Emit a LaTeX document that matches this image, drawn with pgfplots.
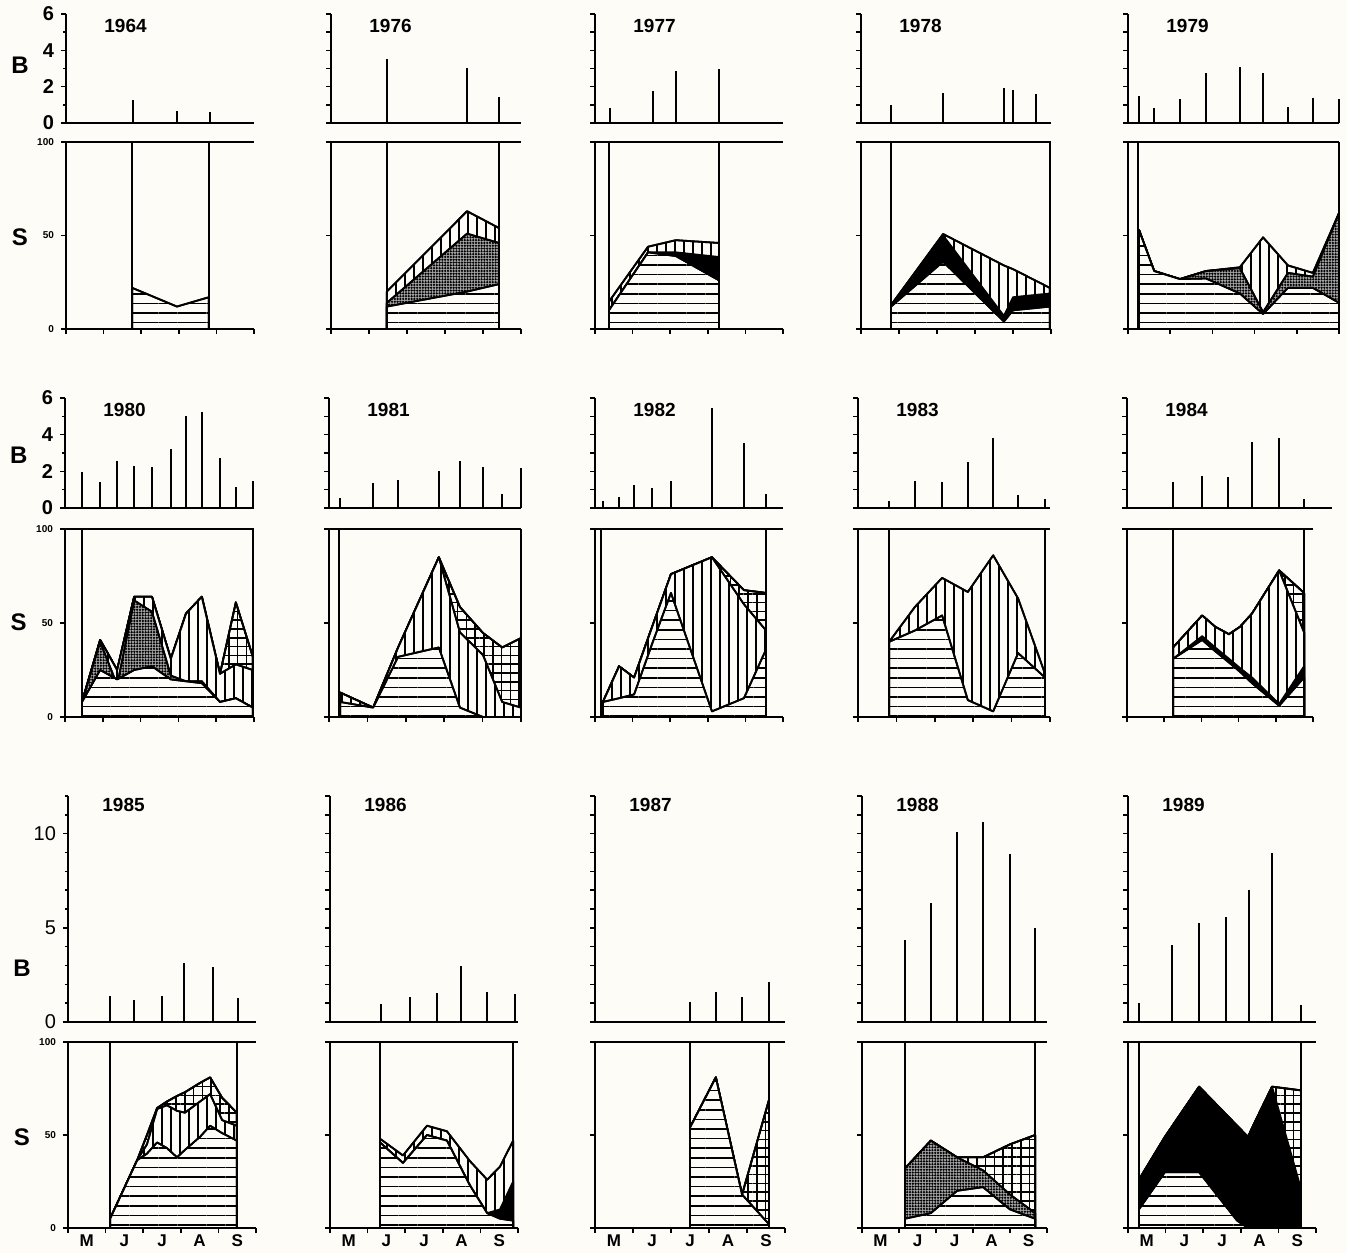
\documentclass[border=0pt]{standalone}
\usepackage{fontspec}
\setmainfont{Liberation Sans}
\usepackage{pgfplots}
\pgfplotsset{compat=1.18}
\usetikzlibrary{patterns.meta}
\definecolor{bg}{RGB}{253,252,247}
\pgfplotsset{
 every non boxed x axis/.style={},
 every non boxed y axis/.style={},
 P/.style={scale only axis, anchor=south west, clip=false, xmin=0, xmax=5,
   axis line style={line width=1pt,-}, tick style={line width=0.8pt,black},
   tick align=outside, major tick length=2.5pt, minor tick length=1.6pt},
 B/.style={P, ymin=0, ymax=6, axis x line=bottom, axis y line=left, xtick=\empty,
   ytick={0,...,6}, yticklabels={}},
 B3/.style={B, ymax=12, ytick={0,...,12}},
 B1/.style={ytick={0,2,4,6}, minor ytick={1,3,5}, yticklabels={0,2,4,6},
   yticklabel style={font=\fontsize{10}{10}\selectfont\bfseries}},
 B31/.style={ytick={0,5,10}, minor ytick={1,2,3,4,6,7,8,9,11,12}, yticklabels={0,5,10},
   yticklabel style={font=\fontsize{10}{10}\selectfont}},
 S/.style={P, ymin=0, ymax=100, axis x line=box, axis y line=left, xtick={0,...,5},
   xtick pos=left, xticklabels={}, ytick={0,50,100}, yticklabels={}},
 S1/.style={yticklabels={0,50,100}, yticklabel style={font=\fontsize{5}{5}\selectfont\bfseries}},
 SM/.style={extra x ticks={0.5,1.5,2.5,3.5,4.5}, extra x tick labels={M,J,J,A,S},
   extra x tick style={major tick length=0pt, tick label style={font=\fontsize{8.5}{9}\selectfont\bfseries}}},
 bar/.style={ycomb, black, line width=1pt},
 vl/.style={black, line width=1pt},
 L/.style={draw=black, line width=0.9pt, line join=round},
 Hp/.style={L, preaction={fill=bg}, pattern={Lines[angle=0,distance=4.8pt,line width=0.8pt]}},
 Vp/.style={L, preaction={fill=bg}, pattern={Lines[angle=90,distance=4.5pt,line width=0.8pt]}},
 Gp/.style={L, preaction={fill=bg}, pattern={Lines[angle=0,distance=4.4pt,line width=0.75pt]},
   postaction={pattern={Lines[angle=90,distance=4.4pt,line width=0.75pt]}}},
 Dp/.style={L, preaction={fill=black!35}, pattern={Dots[distance=1.4pt,radius=0.62pt]}},
 Kp/.style={L, fill=black},
}
\tikzset{yr/.style={anchor=west, xshift=19pt, yshift=-6pt, inner sep=0pt, font=\fontsize{9.5}{10}\selectfont\bfseries},
 lab/.style={font=\fontsize{12}{12}\selectfont\bfseries}}
\begin{document}
\begin{tikzpicture}
\fill[bg] (0pt,0pt) rectangle (673.5pt,-626.5pt);
% ================= ROW 1 =================
% 1964
\begin{axis}[B, B1, at={(33pt,-61.5pt)}, width=94pt, height=54.5pt]
\addplot[bar] coordinates {(1.78,1.26)(2.95,0.66)(3.83,0.6)};
\node[yr] at (rel axis cs:0,1) {1964};
\node[lab] at (rel axis cs:-0.245,0.53) {B};
\end{axis}
\begin{axis}[S, S1, at={(33pt,-164.5pt)}, width=94pt, height=93.5pt]
\addplot[Hp] coordinates {(1.76,22)(2.95,12)(3.80,17)} \closedcycle;
\addplot[vl] coordinates {(1.76,0)(1.76,100)};
\addplot[vl] coordinates {(3.80,0)(3.80,100)};
\node[lab] at (rel axis cs:-0.245,0.49) {S};
\end{axis}
% 1976
\begin{axis}[B, at={(165.5pt,-61.5pt)}, width=95pt, height=54.5pt]
\addplot[bar] coordinates {(1.47,3.5)(3.58,3.0)(4.42,1.44)};
\node[yr] at (rel axis cs:0,1) {1976};
\end{axis}
\begin{axis}[S, at={(165.5pt,-164.5pt)}, width=95pt, height=93.5pt]
\addplot[Vp] coordinates {(1.47,20)(3.58,63)(4.42,54)} \closedcycle;
\addplot[Dp] coordinates {(1.47,14)(3.58,51)(4.42,46)} \closedcycle;
\addplot[Hp] coordinates {(1.47,12)(3.58,20)(4.42,24)} \closedcycle;
\addplot[vl] coordinates {(1.47,0)(1.47,100)};
\addplot[vl] coordinates {(4.42,0)(4.42,100)};
\end{axis}
% 1977
\begin{axis}[B, at={(297.5pt,-61.5pt)}, width=94pt, height=54.5pt]
\addplot[bar] coordinates {(0.40,0.8)(1.54,1.78)(2.15,2.87)(3.30,2.95)};
\node[yr] at (rel axis cs:0,1) {1977};
\end{axis}
\begin{axis}[S, at={(297.5pt,-164.5pt)}, width=94pt, height=93.5pt]
\addplot[Vp] coordinates {(0.37,14.6)(1.41,44)(2.15,47.5)(3.30,46)} \closedcycle;
\addplot[Kp] coordinates {(0.37,10)(1.41,41)(2.15,41)(3.30,38.5)} \closedcycle;
\addplot[Hp] coordinates {(0.37,10)(1.41,41)(2.15,39)(3.30,26)} \closedcycle;
\addplot[vl] coordinates {(0.37,0)(0.37,100)};
\addplot[vl] coordinates {(3.30,0)(3.30,100)};
\end{axis}
% 1978
\begin{axis}[B, at={(430.5pt,-61.5pt)}, width=95pt, height=54.5pt]
\addplot[bar] coordinates {(0.79,1.0)(2.16,1.65)(3.76,1.9)(4.0,1.8)(4.61,1.57)};
\node[yr] at (rel axis cs:0,1) {1978};
\end{axis}
\begin{axis}[S, at={(430.5pt,-164.5pt)}, width=95pt, height=93.5pt]
\addplot[Vp] coordinates {(0.79,12.8)(2.16,50.8)(3.76,34)(4.0,32)(4.97,22)} \closedcycle;
\addplot[Kp] coordinates {(0.79,12.8)(2.16,50)(3.76,7)(4.0,17)(4.97,19)} \closedcycle;
\addplot[Hp] coordinates {(0.79,12)(2.16,36)(3.76,4)(4.0,10)(4.97,12)} \closedcycle;
\addplot[vl] coordinates {(0.79,0)(0.79,100)};
\addplot[vl] coordinates {(4.97,0)(4.97,100)};
\end{axis}
% 1979
\begin{axis}[B, at={(564pt,-61.5pt)}, width=105.5pt, height=54.5pt]
\addplot[bar] coordinates {(0.26,1.48)(0.62,0.82)(1.23,1.3)(1.85,2.76)(2.65,3.1)(3.20,2.76)(3.79,0.9)(4.38,1.4)(5.0,1.3)};
\node[yr] at (rel axis cs:0,1) {1979};
\end{axis}
\begin{axis}[S, at={(564pt,-164.5pt)}, width=105.5pt, height=93.5pt]
\addplot[Vp] coordinates {(0.26,53)(0.62,31)(1.23,26.7)(1.85,31)(2.65,33)(3.20,49)(3.79,34)(4.38,30)(5.0,62)} \closedcycle;
\addplot[Dp] coordinates {(0.26,53)(0.62,31)(1.23,26.7)(1.85,31)(2.65,32.6)(3.20,9)(3.79,30)(4.38,28)(5.0,62)} \closedcycle;
\addplot[Hp] coordinates {(0.26,53)(0.62,31)(1.23,26.7)(1.85,27)(2.65,19)(3.20,8)(3.79,22)(4.38,22)(5.0,14)} \closedcycle;
\addplot[vl] coordinates {(0.24,0)(0.24,100)};
\addplot[vl] coordinates {(5.0,0)(5.0,100)};
\end{axis}
% ================= ROW 2 =================
% 1980
\begin{axis}[B, B1, at={(32.5pt,-254pt)}, width=94.5pt, height=55pt]
\addplot[bar] coordinates {(0.45,1.96)(0.93,1.42)(1.38,2.56)(1.83,2.29)(2.30,2.24)(2.80,3.22)(3.20,5.0)(3.62,5.24)(4.10,2.73)(4.52,1.15)(4.97,1.47)};
\node[yr] at (rel axis cs:0,1) {1980};
\node[lab] at (rel axis cs:-0.245,0.48) {B};
\end{axis}
\begin{axis}[S, S1, at={(32.5pt,-358.5pt)}, width=94.5pt, height=94pt]
\addplot[Gp] coordinates {(0.45,8)(0.93,41)(1.38,25)(1.83,64)(2.30,64)(2.80,31)(3.20,55)(3.62,64)(4.10,23)(4.52,61)(4.97,32)} \closedcycle;
\addplot[Vp] coordinates {(0.45,8)(0.93,41)(1.38,25)(1.83,64)(2.30,64)(2.80,31)(3.20,55)(3.62,64)(4.10,23)(4.52,28)(4.97,25)} \closedcycle;
\addplot[Dp] coordinates {(0.45,8)(0.93,40)(1.38,17)(1.83,62)(2.30,56)(2.80,22)(3.20,19)(3.62,19)(4.10,8)(4.52,10)(4.97,5)} \closedcycle;
\addplot[Hp] coordinates {(0.45,8)(0.93,25)(1.38,20)(1.83,25)(2.30,27)(2.80,20)(3.20,19)(3.62,18)(4.10,8)(4.52,10)(4.97,5)} \closedcycle;
\addplot[vl] coordinates {(0.45,0)(0.45,100)};
\addplot[vl] coordinates {(4.97,0)(4.97,100)};
\node[lab] at (rel axis cs:-0.245,0.505) {S};
\end{axis}
% 1981
\begin{axis}[B, at={(164.5pt,-254pt)}, width=96pt, height=55pt]
\addplot[bar] coordinates {(0.29,0.55)(1.15,1.36)(1.80,1.53)(2.86,2.0)(3.41,2.56)(4.01,2.24)(4.51,0.76)(5.0,2.18)};
\node[yr] at (rel axis cs:0,1) {1981};
\end{axis}
\begin{axis}[S, at={(164.5pt,-358.5pt)}, width=96pt, height=94pt]
\addplot[Gp] coordinates {(0.29,13)(1.15,5)(1.80,37)(2.86,85)(3.41,58.5)(4.01,44.7)(4.51,37)(5.0,42)} \closedcycle;
\addplot[Vp] coordinates {(0.29,13)(1.15,5)(1.80,37)(2.86,85)(3.41,45)(4.01,33)(4.51,8)(5.0,5)} \closedcycle;
\addplot[Hp] coordinates {(0.29,8)(1.15,5)(1.80,32)(2.86,37)(3.41,5)(4.01,0)(4.51,0)(5.0,0)} \closedcycle;
\addplot[vl] coordinates {(0.25,0)(0.25,100)};
\addplot[vl] coordinates {(5.0,0)(5.0,100)};
\end{axis}
% 1982
\begin{axis}[B, at={(297.5pt,-254pt)}, width=94pt, height=55pt]
\addplot[bar] coordinates {(0.21,0.38)(0.64,0.6)(1.04,1.25)(1.52,1.09)(2.02,1.47)(3.11,5.46)(3.96,3.55)(4.55,0.76)};
\node[yr] at (rel axis cs:0,1) {1982};
\end{axis}
\begin{axis}[S, at={(297.5pt,-358.5pt)}, width=94pt, height=94pt]
\addplot[Gp] coordinates {(0.21,8)(0.64,27)(1.04,21)(1.52,48)(2.02,76)(3.11,85)(3.96,67.5)(4.55,66)} \closedcycle;
\addplot[Vp] coordinates {(0.21,8)(0.64,27)(1.04,21)(1.52,48)(2.02,76)(3.11,85)(3.96,60)(4.55,46)} \closedcycle;
\addplot[Hp] coordinates {(0.21,8)(0.64,10)(1.04,12)(1.52,39)(2.02,66)(3.11,3)(3.96,10)(4.55,36)} \closedcycle;
\addplot[vl] coordinates {(0.17,0)(0.17,100)};
\addplot[vl] coordinates {(4.55,0)(4.55,100)};
\end{axis}
% 1983
\begin{axis}[B, at={(429pt,-254pt)}, width=96pt, height=55pt]
\addplot[bar] coordinates {(0.81,0.38)(1.48,1.47)(2.19,1.42)(2.86,2.51)(3.52,3.82)(4.17,0.71)(4.87,0.49)};
\node[yr] at (rel axis cs:0,1) {1983};
\end{axis}
\begin{axis}[S, at={(429pt,-358.5pt)}, width=96pt, height=94pt]
\addplot[Vp] coordinates {(0.81,40)(1.48,58.5)(2.19,74)(2.86,66.5)(3.52,86)(4.17,63)(4.87,23)} \closedcycle;
\addplot[Hp] coordinates {(0.81,40)(1.48,46)(2.19,54)(2.86,9)(3.52,3)(4.17,34)(4.87,21)} \closedcycle;
\addplot[vl] coordinates {(0.81,0)(0.81,100)};
\addplot[vl] coordinates {(4.87,0)(4.87,100)};
\end{axis}
% 1984
\begin{axis}[B, at={(563.5pt,-254pt)}, width=102.5pt, height=55pt, xmax=5.51]
\addplot[bar] coordinates {(1.24,1.42)(2.02,1.75)(2.72,1.69)(3.36,3.6)(4.09,3.82)(4.76,0.49)};
\node[yr] at (rel axis cs:0,1) {1984};
\end{axis}
\begin{axis}[S, at={(563.5pt,-358.5pt)}, width=93pt, height=94pt]
\addplot[Gp] coordinates {(1.24,37)(2.02,54)(2.37,48)(2.74,44)(3.04,48)(3.36,55)(4.09,78)(4.76,66)} \closedcycle;
\addplot[Vp] coordinates {(1.24,37)(2.02,54)(2.37,48)(2.74,44)(3.04,48)(3.36,55)(4.09,78)(4.76,45)} \closedcycle;
\addplot[Kp] coordinates {(1.24,31)(2.02,43)(2.37,37)(2.74,31)(3.04,26)(3.36,21)(4.09,7)(4.76,27)} \closedcycle;
\addplot[Hp] coordinates {(1.24,31)(2.02,41)(2.37,35)(2.74,29)(3.04,24)(3.36,18)(4.09,6)(4.76,21)} \closedcycle;
\addplot[vl] coordinates {(1.24,0)(1.24,100)};
\addplot[vl] coordinates {(4.76,0)(4.76,100)};
\end{axis}
% ================= ROW 3 =================
% 1985
\begin{axis}[B3, B31, at={(34pt,-511pt)}, width=94pt, height=113pt]
\addplot[bar] coordinates {(1.12,1.38)(1.76,1.17)(2.50,1.38)(3.09,3.14)(3.86,2.93)(4.52,1.28)};
\node[yr, yshift=1.5pt, xshift=-2pt] at (rel axis cs:0,1) {1985};
\node[lab] at (rel axis cs:-0.245,0.24) {B};
\end{axis}
\begin{axis}[S, S1, SM, at={(34pt,-614pt)}, width=94pt, height=93pt]
\addplot[Gp] coordinates {(1.12,5)(1.84,36.5)(2.10,50)(2.37,64.5)(2.63,68)(2.90,71)(3.11,73)(3.51,78)(3.78,81)(4.10,70)(4.49,62)} \closedcycle;
\addplot[Vp] coordinates {(1.12,5)(1.84,36.5)(2.10,45)(2.37,64)(2.63,66)(2.90,63)(3.11,62)(3.51,68)(3.78,72)(4.10,58)(4.49,55)} \closedcycle;
\addplot[Hp] coordinates {(1.12,5)(1.84,36.5)(2.10,40)(2.37,46)(2.63,43)(2.90,38)(3.11,42)(3.51,49)(3.78,55)(4.10,51)(4.49,47)} \closedcycle;
\addplot[vl] coordinates {(1.12,0)(1.12,100)};
\addplot[vl] coordinates {(4.49,0)(4.49,100)};
\node[lab] at (rel axis cs:-0.245,0.49) {S};
\end{axis}
% 1986
\begin{axis}[B3, at={(165pt,-511pt)}, width=94pt, height=113pt]
\addplot[bar] coordinates {(1.36,0.96)(2.13,1.33)(2.85,1.54)(3.48,2.98)(4.18,1.6)(4.92,1.49)};
\node[yr, yshift=1.5pt, xshift=-2pt] at (rel axis cs:0,1) {1986};
\end{axis}
\begin{axis}[S, SM, at={(165pt,-614pt)}, width=94pt, height=93pt]
\addplot[Vp] coordinates {(1.33,48)(1.94,39)(2.58,55)(3.11,52)(3.72,36)(4.18,26)(4.52,33)(4.87,47)} \closedcycle;
\addplot[Kp] coordinates {(1.33,46)(1.94,35)(2.58,50)(3.11,47)(3.72,23)(4.18,8)(4.52,10)(4.87,25)} \closedcycle;
\addplot[Hp] coordinates {(1.33,46)(1.94,35)(2.58,50)(3.11,47)(3.72,23)(4.18,8)(4.52,5)(4.87,4)} \closedcycle;
\addplot[vl] coordinates {(1.33,0)(1.33,100)};
\addplot[vl] coordinates {(4.87,0)(4.87,100)};
\end{axis}
% 1987
\begin{axis}[B3, at={(297.5pt,-511pt)}, width=95pt, height=113pt]
\addplot[bar] coordinates {(2.50,1.06)(3.18,1.6)(3.87,1.33)(4.58,2.1)};
\node[yr, yshift=1.5pt, xshift=-2pt] at (rel axis cs:0,1) {1987};
\end{axis}
\begin{axis}[S, SM, at={(297.5pt,-614pt)}, width=95pt, height=93pt]
\addplot[Gp] coordinates {(2.50,54)(3.18,81)(3.87,18)(4.58,69)} \closedcycle;
\addplot[Hp] coordinates {(2.50,54)(3.18,81)(3.87,18)(4.58,2)} \closedcycle;
\addplot[vl] coordinates {(2.50,0)(2.50,100)};
\addplot[vl] coordinates {(4.58,0)(4.58,100)};
\end{axis}
% 1988
\begin{axis}[B3, at={(431pt,-511pt)}, width=92.5pt, height=113pt]
\addplot[bar] coordinates {(1.16,4.36)(1.86,6.33)(2.57,10.1)(3.27,10.6)(4.0,8.9)(4.68,5.0)};
\node[yr, yshift=1.5pt, xshift=-2pt] at (rel axis cs:0,1) {1988};
\end{axis}
\begin{axis}[S, SM, at={(431pt,-614pt)}, width=92.5pt, height=93pt]
\addplot[Gp] coordinates {(1.16,32)(1.86,47)(2.57,38)(3.27,38)(4.0,45)(4.68,50)} \closedcycle;
\addplot[Dp] coordinates {(1.16,32)(1.86,47)(2.57,38)(3.27,31)(4.0,18)(4.68,8)} \closedcycle;
\addplot[Hp] coordinates {(1.16,5)(1.86,8)(2.57,20)(3.27,22)(4.0,10)(4.68,5)} \closedcycle;
\addplot[vl] coordinates {(1.16,0)(1.16,100)};
\addplot[vl] coordinates {(4.68,0)(4.68,100)};
\end{axis}
% 1989
\begin{axis}[B3, at={(564pt,-511pt)}, width=94pt, height=113pt]
\addplot[bar] coordinates {(0.29,1.01)(1.17,4.1)(1.89,5.27)(2.61,5.59)(3.22,7.02)(3.83,9.0)(4.60,0.9)};
\node[yr, yshift=1.5pt, xshift=-2pt] at (rel axis cs:0,1) {1989};
\end{axis}
\begin{axis}[S, SM, at={(564pt,-614pt)}, width=94pt, height=93pt]
\addplot[Gp] coordinates {(0.29,26)(0.98,49)(1.89,76)(2.90,55)(3.19,49)(3.35,56)(3.83,76)(4.60,74)} \closedcycle;
\addplot[Kp] coordinates {(0.29,26)(0.98,49)(1.89,76)(2.90,55)(3.19,49)(3.35,56)(3.83,76)(4.60,21)} \closedcycle;
\addplot[Hp] coordinates {(0.29,10)(0.98,30)(1.89,30)(2.90,4)(3.19,0)(3.35,0)(3.83,0)(4.60,0)} \closedcycle;
\addplot[vl] coordinates {(0.29,0)(0.29,100)};
\addplot[vl] coordinates {(4.60,0)(4.60,100)};
\end{axis}
\end{tikzpicture}
\end{document}
